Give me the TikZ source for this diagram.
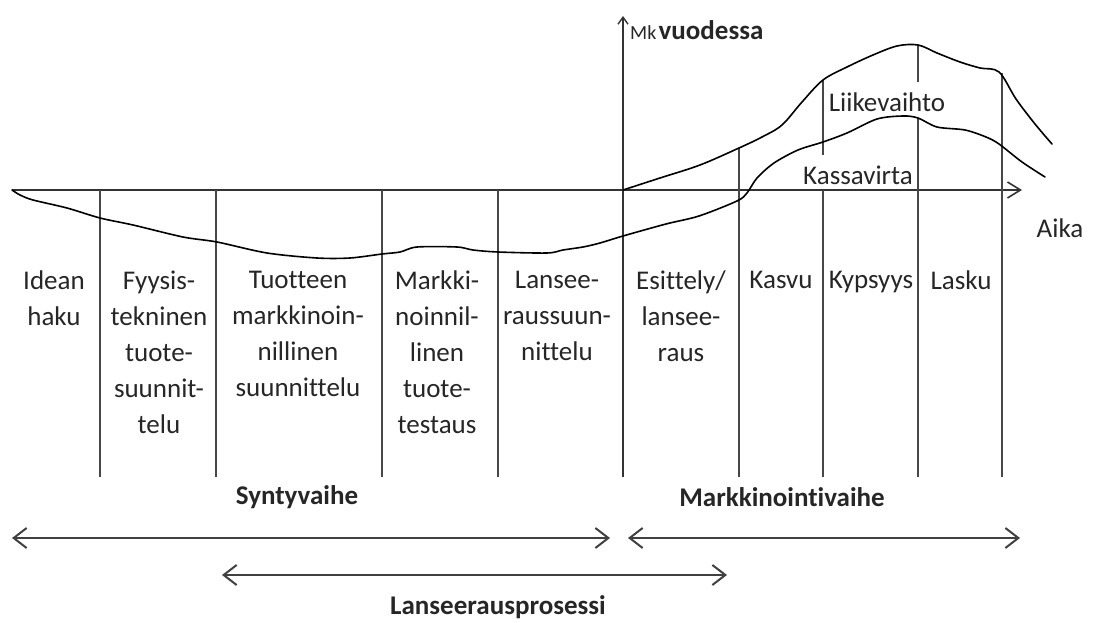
\documentclass[tikz,border=0pt]{standalone}
\usepackage{fontspec}
\setmainfont{Carlito}[Ligatures={NoCommon}]
\usetikzlibrary{arrows.meta}
\begin{document}
\begin{tikzpicture}[x=1pt,y=-1pt,
  lbl/.style={font=\fontsize{27}{36}\selectfont, align=center, text=black!85, inner sep=0pt, anchor=north},
  blbl/.style={font=\fontsize{27}{36}\selectfont\bfseries, text=black!85, inner sep=0pt},
  vline/.style={draw=black!72, line width=1.6pt},
  axisline/.style={draw=black!80, line width=1.6pt},
  curve/.style={draw=black, line width=1.6pt, line join=round, line cap=round},
  span/.style={draw=black!75, line width=2.4pt, {Straight Barb[length=13pt,width=20pt,line width=2pt]}-{Straight Barb[length=13pt,width=20pt,line width=2pt]}}]
\useasboundingbox (0,0) rectangle (1095,623);

% axes
\coordinate (xs) at (12,190);
\coordinate (xe) at (1022,190);
\coordinate (yb) at (623,477);
\coordinate (yt) at (623,16);
\draw[axisline, -{Straight Barb[length=13pt,width=16pt,line width=1.6pt]}] (xs) -- (xe);
\draw[axisline, -{Straight Barb[length=7pt,width=10pt,line width=1.4pt]}] (yb) -- (yt);

% vertical separators
\foreach \x in {100,216,382,498} {\draw[vline] (\x,190) -- (\x,477);}
\draw[vline] (739,148) -- (739,477);
\draw[vline] (823,80) -- (823,155);
\draw[vline] (823,190) -- (823,477);
\draw[vline] (918,45) -- (918,82);
\draw[vline] (918,118) -- (918,477);
\draw[vline] (1002,73) -- (1002,477);

% Liikevaihto curve
\draw[curve] plot[smooth, tension=0.55] coordinates {(623,190) (660,178) (700,165) (739,148) (762,137) (782,125) (802,102) (823,80) (847,67) (873,55) (897,46) (918,45) (937,53) (960,62) (980,68) (999,72) (1016,99) (1035,124) (1052,144)};

% Kassavirta curve
\draw[curve] plot[smooth, tension=0.5] coordinates {(12,190) (20,195) (33,200) (67,208) (100,218) (133,225) (183,237) (217,242) (267,253) (317,258) (350,258) (382,254) (400,252) (417,247) (457,247) (473,250) (498,252) (547,253) (563,250) (583,247) (600,243) (623,236) (666,224) (699,216) (737,201) (747,193) (757,178) (774,163) (798,150) (823,142) (847,133) (877,119) (903,116) (918,118) (937,127) (965,130) (986,137) (999,144) (1022,162) (1045,177)};

% axis labels
\node[inner sep=0pt, anchor=west, text=black!85] (mk) at (630,30) {{\fontsize{20}{22}\selectfont Mk} {\fontsize{27}{30}\selectfont\bfseries vuodessa}};
\node[inner sep=0pt, font=\fontsize{27}{30}\selectfont, text=black!85] (liike) at (887,102) {Liikevaihto};
\node[inner sep=0pt, font=\fontsize{27}{30}\selectfont, text=black!85] (kassa) at (858,175) {Kassavirta};
\node[inner sep=0pt, font=\fontsize{27}{30}\selectfont, text=black!85] (aika) at (1060,228) {Aika};

% phase labels
\node[lbl] (idea) at (54,271) {Idean\\haku};
\node[lbl] (fyys) at (159,271) {Fyysis-\\tekninen\\tuote-\\suunnit-\\telu};
\node[lbl] (tuot) at (298,271) {Tuotteen\\markkinoin-\\nillinen\\suunnittelu};
\node[lbl] (mark) at (437,271) {Markki-\\noinnil-\\linen\\tuote-\\testaus};
\node[lbl] (lans) at (557,271) {Lansee-\\raussuun-\\nittelu};
\node[lbl] (esit) at (681,271) {Esittely/\\lansee-\\raus};
\node[lbl] (kasvu) at (781,271) {Kasvu};
\node[lbl] (kyps) at (871,271) {Kypsyys};
\node[lbl] (lasku) at (961,271) {Lasku};

% bottom labels
\node[blbl] (synty) at (297,497) {Syntyvaihe};
\node[blbl] (markv) at (782,497) {Markkinointivaihe};
\node[blbl] (lprose) at (498,607) {Lanseerausprosessi};

% spans
\coordinate (s1) at (12,538);
\coordinate (s2) at (610,538);
\coordinate (m1) at (628,538);
\coordinate (m2) at (1020,538);
\coordinate (l1) at (222,575);
\coordinate (l2) at (727,575);
\draw[span] (s1) -- (s2);
\draw[span] (m1) -- (m2);
\draw[span] (l1) -- (l2);
\end{tikzpicture}
\end{document}
